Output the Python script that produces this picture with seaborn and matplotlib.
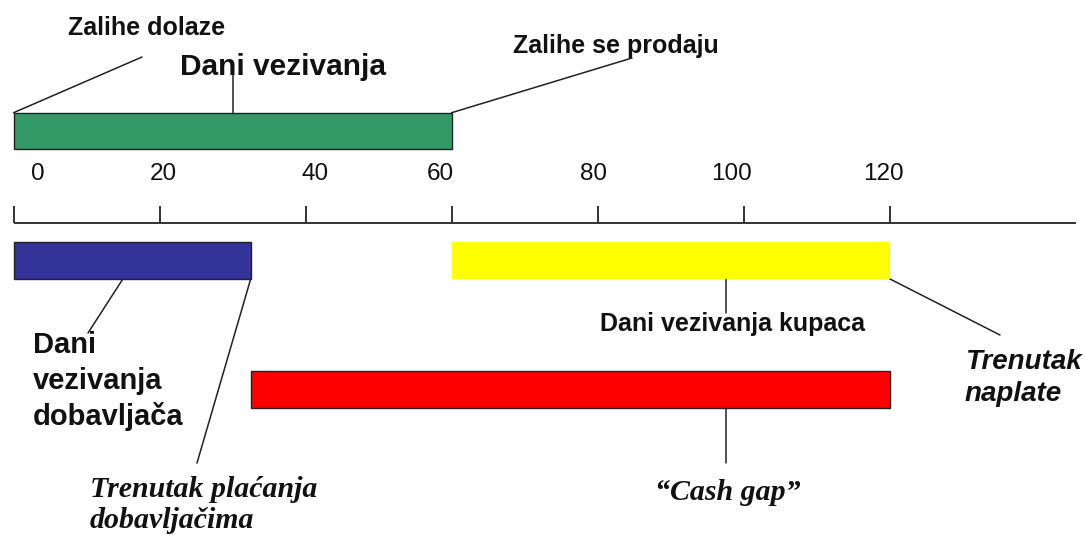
import numpy as np
import pandas as pd
import seaborn as sns
import matplotlib.pyplot as plt

# --- data ---
phase_names = ["Dani vezivanja", "Dani vezivanja dobavljača", "Dani vezivanja kupaca", "Cash gap"]
phase_start = [0, 0, 60, 32.5]
phase_end = [60, 32.5, 120, 120]
phase_colors = ["#339966", "#333399", "#FFFF00", "#FF0000"]
phase_edges = ["#222222", "#222222", "none", "#222222"]

tick_values = [0, 20, 40, 60, 80, 100, 120]
tick_labels = ["0", "20", "40", "60", "80", "100", "120"]

# --- layout (vertical positions in pixel rows, x in days) ---
X0 = 13.5          # pixel of day 0
PX_PER_DAY = 7.3
ROW_Y = [131, 260.5, 260.5, 389.5]
BAR_H = 36.5
AXIS_Y = 223
TICK_LEN = 17
LABEL_Y = 174
# tick labels in the source sit slightly off their ticks
tick_label_x = [3.3, 20.5, 41.3, 58.4, 79.5, 98.4, 119.2]


def px(x):
    return (x - X0) / PX_PER_DAY


sns.set_theme(style="white")
plt.rcParams['font.family'] = ['Liberation Sans', 'DejaVu Sans']

df = pd.DataFrame({"phase": phase_names, "start": phase_start, "end": phase_end,
                   "color": phase_colors, "edge": phase_edges, "row": ROW_Y})
df["days"] = df["end"] - df["start"]

fig = plt.figure(figsize=(10.85, 5.4), dpi=100)
ax = fig.add_axes([0, 0, 1, 1])
ax.set_xlim(px(0), px(1085))
ax.set_ylim(540, 0)
ax.axis("off")

ax.barh(df["row"], df["days"], left=df["start"], height=BAR_H,
        color=df["color"], edgecolor=df["edge"], linewidth=1.0, zorder=3)

# timeline axis with upward ticks
ax.plot([px(14), px(1076)], [AXIS_Y, AXIS_Y], color="#333333", lw=1.4, solid_capstyle="butt")
ax.vlines(tick_values, AXIS_Y - TICK_LEN, AXIS_Y, color="#333333", lw=1.4)
for xl, lab in zip(tick_label_x, tick_labels):
    ax.text(xl, LABEL_Y, lab, ha="center", va="center", fontsize=17.5, color="#111111")

top = df["row"] - BAR_H / 2
bot = df["row"] + BAR_H / 2
lc = dict(color="#222222", lw=1.1, zorder=2)

# leader lines: bar anchor -> label
ax.plot([df["start"][0], px(142)], [top[0], 57], **lc)
ax.plot([30, 30], [top[0], 72], **lc)
ax.plot([df["end"][0], px(632)], [top[0], 58], **lc)
ax.plot([px(123), px(88)], [bot[1], 333], **lc)
ax.plot([df["end"][1], px(197)], [bot[1], 463], **lc)
ax.plot([px(726), px(726)], [bot[2], 313], **lc)
ax.plot([df["end"][2], px(1000)], [bot[2], 335], **lc)
ax.plot([px(726), px(726)], [bot[3], 463], **lc)

sans_b = dict(fontweight="bold", color="#111111", va="baseline", ha="left")
ax.text(px(68), 35, "Zalihe dolaze", fontsize=18, **sans_b)
ax.text(px(180), 75, "Dani vezivanja", fontsize=21.5, **sans_b)
ax.text(px(513), 53, "Zalihe se prodaju", fontsize=18, **sans_b)
for line, y in zip(["Dani", "vezivanja", "dobavljača"], [353, 389, 425]):
    ax.text(px(33), y, line, fontsize=21, **sans_b)
ax.text(px(600), 331, "Dani vezivanja kupaca", fontsize=18, **sans_b)
for line, y in zip(["Trenutak", "naplate"], [369, 401]):
    ax.text(px(965), y, line, fontsize=20, fontstyle="italic", **sans_b)

serif_bi = dict(family=["Liberation Serif", "DejaVu Serif"], fontweight="bold",
                fontstyle="italic", color="#111111", va="baseline", ha="left", fontsize=21.5)
ax.text(px(90), 497, "Trenutak plaćanja", **serif_bi)
ax.text(px(90), 528, "dobavljačima", **serif_bi)
ax.text(px(655), 500, "\u201cCash gap\u201d", **serif_bi)

fig.savefig("out.png", dpi=100)
